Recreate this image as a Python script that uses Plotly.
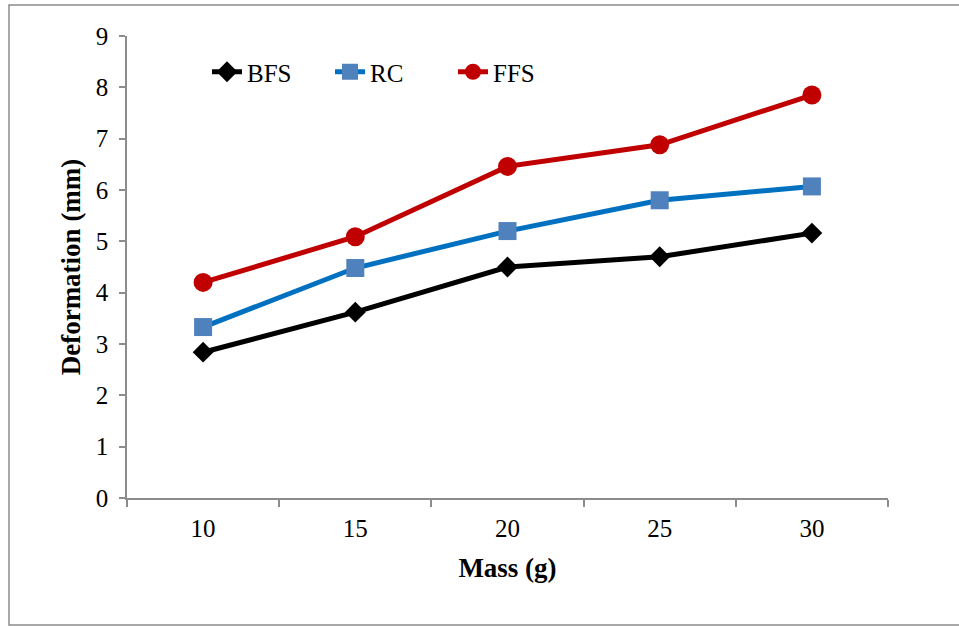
import plotly.graph_objects as go

mass = ["10", "15", "20", "25", "30"]
bfs = [2.84, 3.62, 4.50, 4.70, 5.16]
rc = [3.33, 4.48, 5.20, 5.80, 6.07]
ffs = [4.20, 5.09, 6.46, 6.88, 7.85]

W, H = 959, 626
L, R, T, B = 127, 888, 36, 498

fig = go.Figure()
fig.add_trace(go.Scatter(x=mass, y=bfs, name="BFS", mode="lines+markers",
                         line=dict(color="#000000", width=5),
                         marker=dict(symbol="diamond", size=16, color="#000000")))
fig.add_trace(go.Scatter(x=mass, y=rc, name="RC", mode="lines+markers",
                         line=dict(color="#0070C0", width=5),
                         marker=dict(symbol="square", size=18, color="#4F81BD")))
fig.add_trace(go.Scatter(x=mass, y=ffs, name="FFS", mode="lines+markers",
                         line=dict(color="#C00000", width=5),
                         marker=dict(symbol="circle", size=19, color="#C00000")))

pw = R - L
ph = B - T
fig.add_shape(type="rect", xref="paper", yref="paper",
              x0=(9 - L) / pw, x1=(962 - L) / pw,
              y0=(B - 625) / ph, y1=(B - 5) / ph,
              line=dict(color="#8c8c8c", width=1.5))

fam = "Liberation Serif, Times New Roman, serif"
fig.update_layout(
    width=W, height=H,
    margin=dict(l=L, r=W - R, t=T, b=H - B),
    paper_bgcolor="white", plot_bgcolor="white",
    font=dict(family=fam, size=25, color="#000000"),
    showlegend=True,
    legend=dict(orientation="h", x=(207 - L) / pw, y=(B - 72) / ph,
                xanchor="left", yanchor="middle",
                font=dict(family=fam, size=25, color="#000000"),
                bgcolor="rgba(0,0,0,0)", entrywidth=78, entrywidthmode="pixels",
                tracegroupgap=0),
    xaxis=dict(type="category", range=[-0.5, 4.5], tickson="boundaries",
               showline=True, linecolor="#8c8c8c", linewidth=1.5,
               ticks="outside", ticklen=7, tickcolor="#8c8c8c", tickwidth=1.5,
               showgrid=False, zeroline=False, ticklabelstandoff=7,
               tickfont=dict(family=fam, size=25, color="#000000"),
               title=dict(text="<b>Mass (g)</b>", standoff=17,
                          font=dict(family=fam, size=27, color="#000000"))),
    yaxis=dict(range=[0, 9], dtick=1, showline=True, linecolor="#8c8c8c", linewidth=1.5,
               ticks="outside", ticklen=6, tickcolor="#8c8c8c", tickwidth=1.5,
               showgrid=False, zeroline=False, ticklabelstandoff=6,
               tickfont=dict(family=fam, size=25, color="#000000"),
               title=dict(text="<b>Deformation (mm)</b>", standoff=7,
                          font=dict(family=fam, size=27, color="#000000"))),
)

fig.write_html("out.html", config={"displayModeBar": False},
               post_script="document.body.style.margin='0px';")
